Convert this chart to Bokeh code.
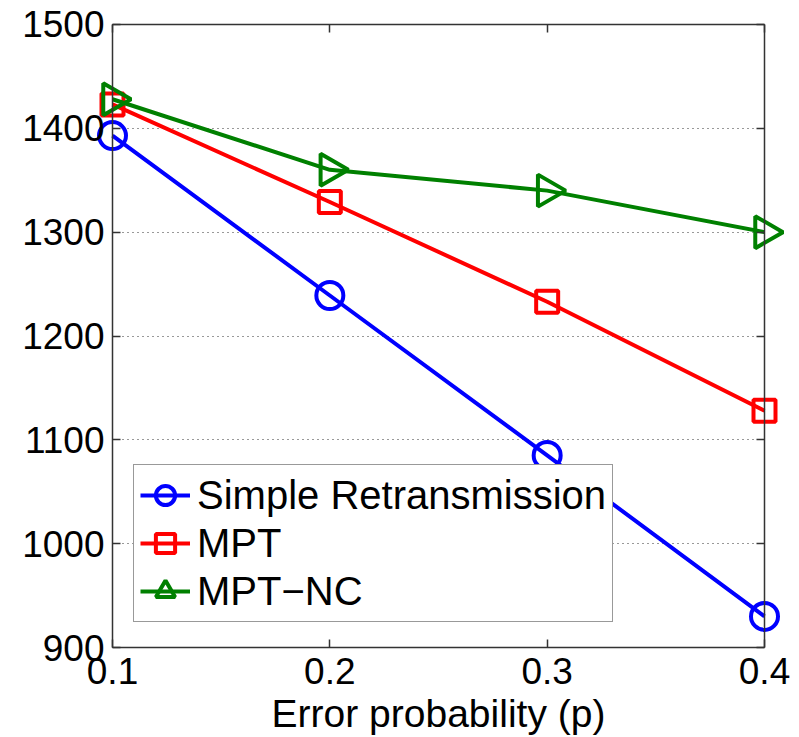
import math
from bokeh.plotting import figure
from bokeh.models import LinearAxis, FixedTicker, Legend, LegendItem, Range1d
from bokeh.embed import file_html
from bokeh.resources import INLINE

# Data
p_values = [0.1, 0.2, 0.3, 0.4]
simple_retx = [1393, 1239, 1085, 930]
mpt = [1423, 1329, 1233, 1128]
mpt_nc = [1428, 1360, 1340, 1300]
x_ticks = [0.1, 0.2, 0.3, 0.4]
y_ticks = [900, 1000, 1100, 1200, 1300, 1400, 1500]
x_lim = (0.1, 0.4)
y_lim = (900, 1500)

FONT = "Liberation Sans"

# axes box in pixels: left 112, right 764, top 24, bottom 648
BOX_W, BOX_H = 652, 624
PAD = 20  # extra frame so that markers at the box edge are not clipped
dx = (x_lim[1] - x_lim[0]) * PAD / BOX_W
dy = (y_lim[1] - y_lim[0]) * PAD / BOX_H

p = figure(width=799, height=737, output_backend="svg", toolbar_location=None,
           x_range=Range1d(x_lim[0] - dx, x_lim[1] + dx),
           y_range=Range1d(y_lim[0] - dy, y_lim[1] + dy),
           min_border_left=112 - PAD, min_border_right=35 - PAD,
           min_border_top=24 - PAD, min_border_bottom=89 - PAD,
           x_axis_label="Error probability (p)")
p.background_fill_color = "white"
p.border_fill_color = "white"
p.outline_line_color = None

p.xgrid.grid_line_color = None
p.ygrid.grid_line_color = "#333333"
p.ygrid.grid_line_dash = "1 4"
p.ygrid.grid_line_width = 1
p.ygrid.bounds = y_lim
p.ygrid.cross_bounds = x_lim


def style_box_axis(ax):
    ax.axis_line_color = "#333333"
    ax.axis_line_width = 1.5
    ax.major_tick_in = 8
    ax.major_tick_out = 0
    ax.minor_tick_line_color = None
    ax.major_tick_line_color = "#333333"
    ax.major_tick_line_width = 1.5
    ax.major_label_text_font_size = "0px"
    ax.major_label_text_color = None
    ax.major_label_standoff = 0


# label-only axes in the side panels
xa = p.xaxis[0]
ya = p.yaxis[0]
for ax in [xa, ya]:
    ax.axis_line_color = None
    ax.major_tick_line_color = None
    ax.minor_tick_line_color = None
    ax.major_tick_in = 0
    ax.major_tick_out = 0
    ax.major_label_text_font = FONT
    ax.major_label_text_font_size = "37px"
    ax.major_label_text_color = "black"

xa.ticker = FixedTicker(ticks=x_ticks)
ya.ticker = FixedTicker(ticks=y_ticks)
xa.major_label_standoff = 10 - PAD
ya.major_label_standoff = 8 - PAD
xa.axis_label_text_font = FONT
xa.axis_label_text_font_size = "39px"
xa.axis_label_text_font_style = "normal"
xa.axis_label_text_color = "black"
xa.axis_label_standoff = 5

# box lines with inward ticks on all four sides
for loc, ticks, bnds, fixed in [("below", x_ticks, x_lim, y_lim[0]),
                                ("left", y_ticks, y_lim, x_lim[0]),
                                ("above", x_ticks, x_lim, y_lim[1]),
                                ("right", y_ticks, y_lim, x_lim[1])]:
    ax = LinearAxis(ticker=FixedTicker(ticks=ticks), bounds=bnds, fixed_location=fixed)
    style_box_axis(ax)
    p.add_layout(ax, loc)

blue = "#0000FF"
red = "#FF0000"
green = "#008000"

l1 = p.line(p_values, simple_retx, line_color=blue, line_width=4)
m1 = p.scatter(p_values, simple_retx, marker="circle", size=27, fill_color=None,
               line_color=blue, line_width=4)
l2 = p.line(p_values, mpt, line_color=red, line_width=4)
m2 = p.scatter(p_values, mpt, marker="square", size=22, fill_color=None,
               line_color=red, line_width=4)
l3 = p.line(p_values, mpt_nc, line_color=green, line_width=4)
m3 = p.scatter(p_values, mpt_nc, marker="triangle", size=32, angle=-math.pi / 2,
               fill_color=None, line_color=green, line_width=4)

legend = Legend(items=[
    LegendItem(label="Simple Retransmission", renderers=[l1, m1]),
    LegendItem(label="MPT", renderers=[l2, m2]),
    LegendItem(label="MPT\u2212NC", renderers=[l3, m3]),
], location=(21 + PAD, 25 + PAD))
legend.label_text_font = FONT
legend.label_text_font_size = "40px"
legend.label_text_color = "black"
legend.glyph_width = 50
legend.glyph_height = 48
legend.label_height = 48
legend.label_standoff = 7
legend.spacing = 0
legend.padding = 6
legend.margin = 0
legend.border_line_color = "#333333"
legend.border_line_width = 1.5
legend.background_fill_color = "white"
legend.background_fill_alpha = 1
p.add_layout(legend, "center")

open("out.html", "w").write(file_html(p, INLINE))
